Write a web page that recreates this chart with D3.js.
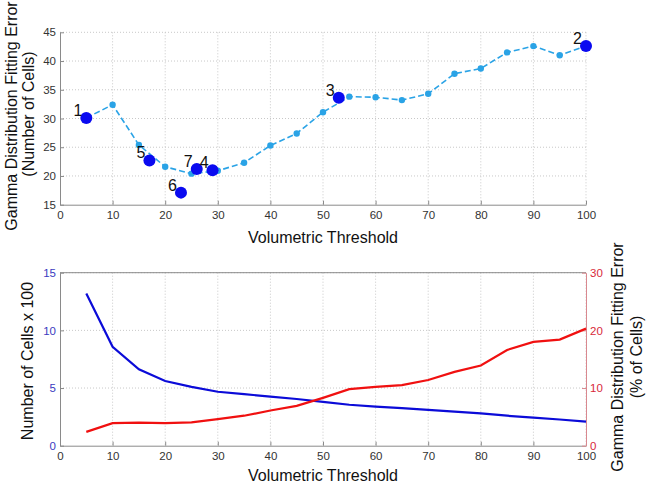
<!DOCTYPE html>
<html>
<head>
<meta charset="utf-8">
<script src="https://cdn.jsdelivr.net/npm/d3@7"></script>
<style>
  body { margin: 0; background: #fff; }
  svg text { font-family: "Liberation Sans", Arial, sans-serif; }
</style>
</head>
<body>
<svg id="chart" width="650" height="485"></svg>
<script>
// ---- data ----
const thresholds = [5, 10, 15, 20, 25, 30, 35, 40, 45, 50, 55, 60, 65, 70, 75, 80, 85, 90, 95, 100];
const fitError = [30.1, 32.4, 25.4, 21.6, 20.4, 20.9, 22.3, 25.3, 27.4, 31.1, 33.8, 33.7, 33.2, 34.3, 37.8, 38.7, 41.5, 42.6, 41.0, 42.6];
const markedIds = ['1', '2', '3', '4', '5', '6', '7'];
const markedX = [5, 100, 53, 29, 17, 23, 26];
const markedY = [30.1, 42.6, 33.6, 21.0, 22.7, 17.1, 21.2];
const cellCount = [13.2, 8.58, 6.62, 5.61, 5.1, 4.68, 4.48, 4.25, 4.05, 3.8, 3.55, 3.38, 3.25, 3.1, 2.95, 2.81, 2.6, 2.43, 2.27, 2.08];
const errorPct = [2.4, 3.9, 4.0, 3.9, 4.05, 4.6, 5.2, 6.1, 6.9, 8.3, 9.8, 10.2, 10.5, 11.4, 12.8, 13.9, 16.6, 18.0, 18.4, 20.3];
const xTicks = [0, 10, 20, 30, 40, 50, 60, 70, 80, 90, 100];
const topYTicks = [15, 20, 25, 30, 35, 40, 45];
const leftYTicks = [0, 5, 10, 15];
const rightYTicks = [0, 10, 20, 30];

const svg = d3.select('#chart');
const left = 60, right = 586;

const x = d3.scaleLinear().domain([0, 100]).range([left, right]);
const yTop = d3.scaleLinear().domain([15, 45]).range([204.7, 32.3]);
const yCells = d3.scaleLinear().domain([0, 15]).range([445.7, 272.7]);
const yPct = d3.scaleLinear().domain([0, 30]).range([445.7, 272.7]);

// dotted grid
function grid(yScale, yTicksArr, yTopPx, yBotPx) {
  const g = svg.append('g');
  g.selectAll('.vg').data(xTicks.slice(1)).enter().append('line')
    .attr('x1', d => x(d)).attr('x2', d => x(d))
    .attr('y1', yTopPx).attr('y2', yBotPx)
    .attr('stroke', '#c8c8c8').attr('stroke-dasharray', '1,2');
  g.selectAll('.hg').data(yTicksArr.slice(1)).enter().append('line')
    .attr('x1', left).attr('x2', right)
    .attr('y1', d => yScale(d)).attr('y2', d => yScale(d))
    .attr('stroke', '#c8c8c8').attr('stroke-dasharray', '1,2');
}

function styleAxis(g, lineColor, textColor) {
  g.select('.domain').attr('stroke', lineColor);
  g.selectAll('.tick line').attr('stroke', lineColor);
  g.selectAll('.tick text').attr('fill', textColor).style('font-size', '11.5px')
    .style('font-family', '"Liberation Sans", Arial, sans-serif');
}

function rotLabel(tx, ty, txt) {
  svg.append('text').attr('transform', `translate(${tx},${ty}) rotate(-90)`)
    .attr('text-anchor', 'middle').style('font-size', '16px').attr('fill', '#111')
    .text(txt);
}

// ---------- top chart ----------
grid(yTop, topYTicks, 32.3, 204.7);

const xAxisTop = svg.append('g').attr('transform', 'translate(0,204.7)')
  .call(d3.axisBottom(x).tickValues(xTicks).tickSizeInner(-4).tickSizeOuter(0).tickPadding(6));
styleAxis(xAxisTop, '#8a8a8a', '#333');

const yAxisTop = svg.append('g').attr('transform', `translate(${left},0)`)
  .call(d3.axisLeft(yTop).tickValues(topYTicks).tickSizeInner(-4).tickSizeOuter(0).tickPadding(4));
styleAxis(yAxisTop, '#8a8a8a', '#333');

const lineTop = d3.line().x((d, i) => x(thresholds[i])).y(d => yTop(d));
svg.append('path').datum(fitError)
  .attr('d', lineTop).attr('fill', 'none')
  .attr('stroke', '#2aa3e6').attr('stroke-width', 1.6).attr('stroke-dasharray', '6,3');

svg.selectAll('.sdot').data(fitError).enter().append('circle')
  .attr('cx', (d, i) => x(thresholds[i])).attr('cy', d => yTop(d))
  .attr('r', 3.2).attr('fill', '#2aa3e6');

svg.selectAll('.bdot').data(markedIds).enter().append('circle')
  .attr('cx', (d, i) => x(markedX[i])).attr('cy', (d, i) => yTop(markedY[i]))
  .attr('r', 6).attr('fill', '#0a0af0');

svg.selectAll('.blab').data(markedIds).enter().append('text')
  .attr('x', (d, i) => x(markedX[i]) - 4).attr('y', (d, i) => yTop(markedY[i]) - 2)
  .attr('text-anchor', 'end').style('font-size', '16px').attr('fill', '#111')
  .text(d => d);

svg.append('text').attr('x', 323).attr('y', 243).attr('text-anchor', 'middle')
  .style('font-size', '16px').attr('fill', '#111').text('Volumetric Threshold');

rotLabel(17, 116, 'Gamma Distribution Fitting Error');
rotLabel(34, 114, '(Number of Cells)');

// ---------- bottom chart ----------
grid(yCells, leftYTicks, 272.7, 445.7);

// top border of the box
svg.append('line').attr('x1', left).attr('x2', right).attr('y1', 272.7).attr('y2', 272.7)
  .attr('stroke', '#8a8a8a');

const xAxisBot = svg.append('g').attr('transform', 'translate(0,445.7)')
  .call(d3.axisBottom(x).tickValues(xTicks).tickSizeInner(-4).tickSizeOuter(0).tickPadding(6));
styleAxis(xAxisBot, '#8a8a8a', '#333');

const yAxisLeft = svg.append('g').attr('transform', `translate(${left},0)`)
  .call(d3.axisLeft(yCells).tickValues(leftYTicks).tickSizeInner(-4).tickSizeOuter(0).tickPadding(4));
styleAxis(yAxisLeft, '#8a8a8a', '#3a3ac0');

const yAxisRight = svg.append('g').attr('transform', `translate(${right},0)`)
  .call(d3.axisRight(yPct).tickValues(rightYTicks).tickSizeInner(-4).tickSizeOuter(0).tickPadding(4));
styleAxis(yAxisRight, '#d9888f', '#d8283a');

const lineCells = d3.line().x((d, i) => x(thresholds[i])).y(d => yCells(d));
svg.append('path').datum(cellCount).attr('d', lineCells)
  .attr('fill', 'none').attr('stroke', '#0b0bd8').attr('stroke-width', 2.2);

const linePct = d3.line().x((d, i) => x(thresholds[i])).y(d => yPct(d));
svg.append('path').datum(errorPct).attr('d', linePct)
  .attr('fill', 'none').attr('stroke', '#f01010').attr('stroke-width', 2.2);

svg.append('text').attr('x', 323).attr('y', 481).attr('text-anchor', 'middle')
  .style('font-size', '16px').attr('fill', '#111').text('Volumetric Threshold');

rotLabel(33, 361, 'Number of Cells x 100');
rotLabel(623, 357, 'Gamma Distribution Fitting Error');
rotLabel(642, 357, '(% of Cells)');
</script>
</body>
</html>
